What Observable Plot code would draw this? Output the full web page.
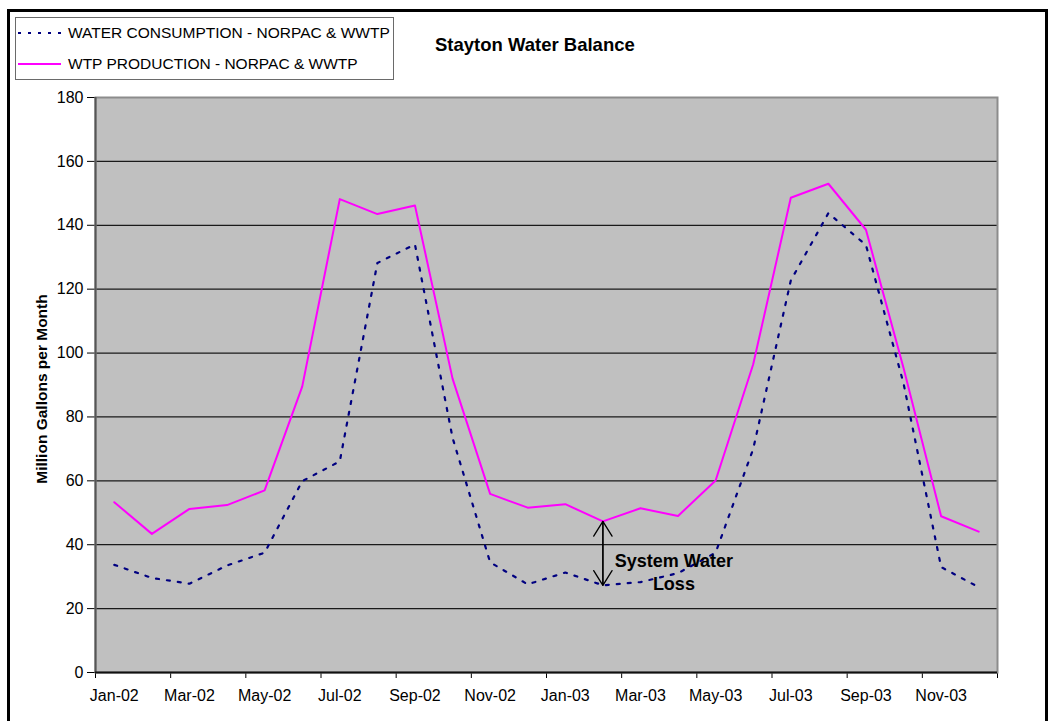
<!DOCTYPE html>
<html>
<head>
<meta charset="utf-8">
<script src="https://cdn.jsdelivr.net/npm/d3@7"></script>
<script src="https://cdn.jsdelivr.net/npm/@observablehq/plot@0.6"></script>
<style>
  html, body { margin: 0; padding: 0; background: #fff; }
  body { width: 1050px; height: 721px; position: relative; overflow: hidden;
         font-family: "Liberation Sans", Arial, sans-serif; }
  #chart { position: absolute; left: 0; top: 0; }
  #chart svg { font-size: 16px !important; font-family: "Liberation Sans", Arial, sans-serif !important; }
  #outer { position: absolute; left: 7px; top: 9px; width: 1041px; height: 730px;
           border: 3px solid #000; box-sizing: border-box; pointer-events: none; }
  #legend { position: absolute; left: 15px; top: 17px; width: 379px; height: 63px;
            border: 1px solid #6a6a6a; box-sizing: border-box; background: #fff; }
  .lg-row { position: absolute; left: 0; height: 20px; display: flex; align-items: center; }
  .lg-row svg { margin-left: 1px; }
  .lg-row span { margin-left: 7px; font-size: 15.5px; color: #000; white-space: nowrap; }
  #title { position: absolute; left: 435px; top: 34px; font-size: 18.5px; font-weight: bold; color: #000; white-space: nowrap; }
</style>
</head>
<body>
<div id="chart"></div>
<div id="outer"></div>
<div id="legend"></div>
<div id="title"></div>
<script>
// ---- data ----
const months = ["Jan-02","Feb-02","Mar-02","Apr-02","May-02","Jun-02","Jul-02","Aug-02","Sep-02","Oct-02","Nov-02","Dec-02",
                "Jan-03","Feb-03","Mar-03","Apr-03","May-03","Jun-03","Jul-03","Aug-03","Sep-03","Oct-03","Nov-03","Dec-03"];
const consumption = [33.7, 29.6, 27.8, 33.5, 37.5, 59.9, 66.1, 128.2, 134.0, 73.5, 34.5, 27.6,
                     31.3, 27.3, 28.3, 31.1, 37.5, 70.0, 122.7, 143.8, 133.8, 90.5, 33.0, 26.7];
const production  = [53.3, 43.4, 51.2, 52.4, 57.0, 89.5, 148.2, 143.5, 146.2, 92.0, 55.9, 51.6,
                     52.7, 47.3, 51.4, 49.0, 60.1, 96.5, 148.6, 153.0, 138.6, 95.3, 48.9, 44.1];
const yTicks = [0, 20, 40, 60, 80, 100, 120, 140, 160, 180];
const gridValues = [20, 40, 60, 80, 100, 120, 140, 160];
const xTickLabels = ["Jan-02","Mar-02","May-02","Jul-02","Sep-02","Nov-02","Jan-03","Mar-03","May-03","Jul-03","Sep-03","Nov-03"];
const seriesNames = ["WATER CONSUMPTION - NORPAC & WWTP", "WTP PRODUCTION - NORPAC & WWTP"];
const titleText = "Stayton Water Balance";
const yLabel = "Million Gallons per Month";
const annotationMonth = "Feb-03";
const annotationText = "System Water\nLoss";

// ---- derived tables ----
const rows = months.map((m, i) => ({month: m, pos: i + 0.5, production: production[i], consumption: consumption[i]}));
const labelRows = rows.filter(r => xTickLabels.includes(r.month));
const boundaryTicks = d3.range(0, months.length + 1, 2);
const ai = months.indexOf(annotationMonth);
const annot = {pos: ai + 0.5, mid: (production[ai] + consumption[ai]) / 2};
const arrowRows = [
  {pos: annot.pos, from: consumption[ai], to: production[ai]},
  {pos: annot.pos, from: production[ai], to: consumption[ai]}
];

const colors = {consumption: "#000080", production: "#FF00FF"};

const chart = Plot.plot({
  width: 1050,
  height: 721,
  marginLeft: 95,
  marginRight: 53,
  marginTop: 97,
  marginBottom: 49,
  style: {fontFamily: "'Liberation Sans', Arial, sans-serif", fontSize: "16px", color: "#000", background: "transparent", overflow: "visible"},
  x: {domain: [0, months.length], ticks: boundaryTicks, tickSize: 6, tickFormat: () => "", label: null},
  y: {domain: [0, 180], ticks: yTicks, tickSize: 8, tickPadding: 4, label: null},
  marks: [
    Plot.frame({fill: "#C0C0C0", stroke: "none"}),
    Plot.ruleY(gridValues, {stroke: "#1a1a1a", strokeWidth: 1.2}),
    Plot.frame({stroke: "#8c8c8c", strokeWidth: 2}),
    Plot.ruleX([0], {stroke: "#555", strokeWidth: 2}),
    Plot.ruleY([0], {stroke: "#111", strokeWidth: 2}),
    Plot.line(rows, {x: "pos", y: "consumption", stroke: colors.consumption, strokeWidth: 2.2, strokeDasharray: "3,8"}),
    Plot.line(rows, {x: "pos", y: "production", stroke: colors.production, strokeWidth: 2}),
    Plot.text(labelRows, {x: "pos", text: "month", frameAnchor: "bottom", lineAnchor: "middle", textAnchor: "middle", dy: 23, fontSize: 16}),
    Plot.text([yLabel], {text: d => d, frameAnchor: "left", textAnchor: "middle", lineAnchor: "middle", dx: -53, dy: 4, rotate: -90, fontWeight: "bold", fontSize: 15.5}),
    Plot.arrow(arrowRows, {x1: "pos", x2: "pos", y1: "from", y2: "to", stroke: "#000", strokeWidth: 1.3, headLength: 20, headAngle: 64}),
    Plot.text([annot], {x: "pos", y: "mid", text: () => annotationText, dx: 71, dy: 18, fontSize: 18, fontWeight: "bold", lineHeight: 1.25})
  ]
});
document.getElementById("chart").appendChild(chart);

// ---- legend ----
const legend = document.getElementById("legend");
const legendItems = [
  {name: seriesNames[0], color: colors.consumption, dash: "3,7", top: 5},
  {name: seriesNames[1], color: colors.production, dash: null, top: 36}
];
for (const it of legendItems) {
  const row = document.createElement("div");
  row.className = "lg-row";
  row.style.top = it.top + "px";
  row.innerHTML = `<svg width="44" height="20"><line x1="1" x2="44" y1="10" y2="10" stroke="${it.color}" stroke-width="2" ${it.dash ? `stroke-dasharray="${it.dash}"` : ""}/></svg><span>${it.name}</span>`;
  legend.appendChild(row);
}
document.getElementById("title").textContent = titleText;
</script>
</body>
</html>
